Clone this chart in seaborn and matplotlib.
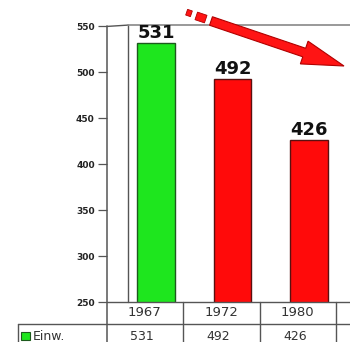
import matplotlib
matplotlib.use('Agg')
import matplotlib.pyplot as plt
import seaborn as sns
import pandas as pd
import numpy as np
from matplotlib.patches import FancyArrow, Polygon, Rectangle
from matplotlib.transforms import blended_transform_factory

# ---- data ----
years = ['1967', '1972', '1980']
einw = [531, 492, 426]
bar_colors = ['#1ee61e', '#ff0a0a', '#ff0a0a']
edge_colors = ['#1d5a1d', '#5a1010', '#5a1010']
yticks = [250, 300, 350, 400, 450, 500, 550]
series_label = 'Einw.'

sns.set_theme(style='white')
plt.rcParams['font.family'] = ['DejaVu Sans']

W, H = 350, 342
fig = plt.figure(figsize=(W / 100, H / 100), dpi=100)
fig.patch.set_facecolor('white')

spacing = 76.5          # px per category
ax_left_px = 106.5
ax_top_px, ax_bot_px = 26, 302
xl = -0.65
xr = xl + (W - ax_left_px) / spacing

ax = fig.add_axes([ax_left_px / W, 1 - ax_bot_px / H,
                   (W - ax_left_px) / W, (ax_bot_px - ax_top_px) / H])
df = pd.DataFrame({'year': years, 'einw': einw})
sns.barplot(data=df, x='year', y='einw', hue='year', palette=bar_colors,
            width=0.49, saturation=1, legend=False, ax=ax, zorder=3)
for p, ec in zip(ax.patches, edge_colors):
    p.set_edgecolor(ec)
    p.set_linewidth(1.0)
for c in ax.containers:
    ax.bar_label(c, fontsize=13, fontweight='bold', padding=1, color='#111')

ax.set_ylim(250, 550)
ax.set_xlim(xl, xr)
ax.set_xlabel('')
ax.set_ylabel('')
ax.set_xticks([])
ax.set_yticks(yticks)
ax.set_yticklabels([str(t) for t in yticks], fontsize=6.5, fontweight='bold',
                   color='#222')
ax.tick_params(axis='y', length=6.5, width=0.9, color='#555', pad=2, left=True)
for s in ax.spines.values():
    s.set_visible(False)
ax.set_facecolor('none')

lc = '#555'
trans = blended_transform_factory(ax.transData, ax.transAxes)
wall = -0.366
# left outer axis line, continues down through the table
ax.plot([xl, xl], [1.0, -0.2], transform=trans, color=lc, lw=1.1, clip_on=False)
# inner wall
ax.plot([wall, wall], [250, 551], color=lc, lw=1.0, clip_on=False, zorder=2)
# top edge
ax.plot([xl, wall], [549.5, 551], color=lc, lw=1.0, clip_on=False)
ax.plot([wall, xr], [551, 551], color='#888', lw=1.2, clip_on=False)
# floor line
ax.plot([xl, xr], [250, 250], color=lc, lw=1.0, clip_on=False, zorder=4)

# ---- data table ----
axh = ax_bot_px - ax_top_px
row1 = -22 / axh
row2 = -44 / axh
row2_text = -(336 - ax_bot_px) / axh
left_px = 18
xleft = xl + (left_px - ax_left_px) / spacing
ax.plot([xleft, xr], [row1, row1], transform=trans, color=lc, lw=1.0, clip_on=False)
ax.plot([xleft, xleft], [row1, row2], transform=trans, color=lc, lw=1.0, clip_on=False)
for i in range(len(years) + 1):
    ax.plot([i + 0.35, i + 0.35], [0, row2], transform=trans, color=lc,
            lw=1.0, clip_on=False)
for i, (yr, v) in enumerate(zip(years, einw)):
    ax.text(i - 0.15, row1 / 2, yr, transform=trans, ha='center', va='center',
            fontsize=9.5, color='#333', clip_on=False)
    ax.text(i - 0.19, row2_text, str(v), transform=trans,
            ha='center', va='center', fontsize=9, color='#333', clip_on=False)

# ---- overlay (pixel coords) for legend key and decorative arrow ----
ov = fig.add_axes([0, 0, 1, 1])
ov.set_xlim(0, W)
ov.set_ylim(H, 0)
ov.axis('off')
ov.add_patch(Rectangle((21, 332), 9, 8, facecolor='#1ee61e', edgecolor='#1d5a1d', lw=0.8))
ov.text(33, 336, series_label, ha='left', va='center', fontsize=9, color='#333')

start = np.array([211.0, 21.0])
tip = np.array([344.0, 66.0])
d = tip - start
ov.add_patch(FancyArrow(start[0], start[1], d[0], d[1], width=9, head_width=24,
                        head_length=42, length_includes_head=True,
                        facecolor='#ff1414', edgecolor='#b00000', lw=0.8))
u = d / np.linalg.norm(d)
n = np.array([-u[1], u[0]])
for c, ln, wd in [((201.0, 17.5), 10, 8), ((189.0, 13.0), 5, 6)]:
    c = np.array(c)
    pts = [c - u * ln / 2 - n * wd / 2, c + u * ln / 2 - n * wd / 2,
           c + u * ln / 2 + n * wd / 2, c - u * ln / 2 + n * wd / 2]
    ov.add_patch(Polygon(pts, closed=True, facecolor='#ff1414',
                         edgecolor='#b00000', lw=0.6))

fig.savefig('out.png', dpi=100)
